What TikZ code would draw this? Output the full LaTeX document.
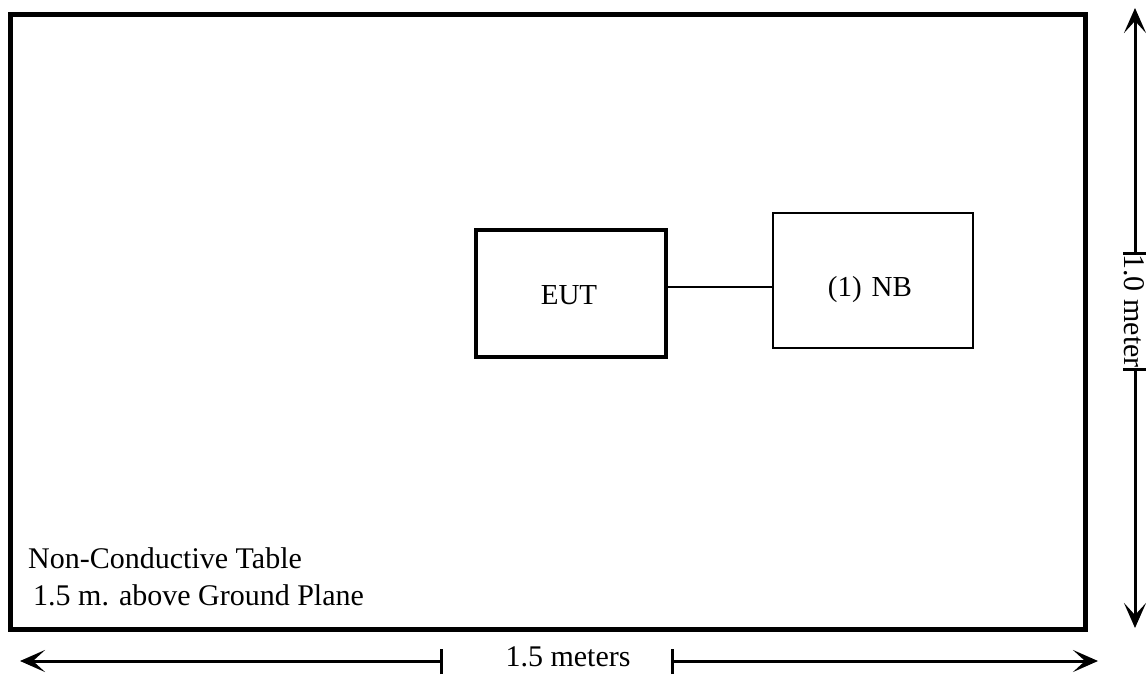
\documentclass[tikz,border=0pt]{standalone}
\usepackage{fontspec}
\setmainfont{Liberation Serif}
\usetikzlibrary{arrows.meta}
\begin{document}
\begin{tikzpicture}[x=1pt,y=-1pt,
  lbl/.style={font=\fontsize{30}{36}\selectfont, inner sep=0pt},
  boxlbl/.style={font=\fontsize{29}{34}\selectfont, inner sep=0pt},
  dimline/.style={line width=3pt},
  tipend/.style={-{Stealth[length=25pt,width=22pt,inset=12pt]}},
]
\useasboundingbox (0,0) rectangle (1146,675);
% table
\draw[line width=5pt] (10.5,14.5) rectangle (1085,629);
% boxes
\node[draw, line width=3.5pt, minimum width=190pt, minimum height=127pt, inner sep=0pt] (eut) at (571,293.5) {};
\node[boxlbl] (euttext) at (569,295) {EUT};
\node[draw, line width=2pt, minimum width=200pt, minimum height=135pt, inner sep=0pt] (nb) at (873,280.5) {};
\node[boxlbl] (nbtext) at (870,290) {(1)\hspace{10pt}NB};
\coordinate (cable) at (0,287);
\draw[line width=1.5pt] (eut.east |- cable) -- (nb.west |- cable);
% labels
\node[lbl, anchor=base west] (t1) at (28,568) {Non-Conductive Table};
\node[lbl, anchor=base west] (t2) at (33,605) {1.5 m. above Ground Plane};
% bottom dimension
\coordinate (bl) at (20,661);
\coordinate (bt1) at (441,661);
\coordinate (bt2) at (672,661);
\coordinate (br) at (1098,661);
\draw[dimline, tipend] (bt1) -- (bl);
\draw[dimline, tipend] (bt2) -- (br);
\draw[dimline] ([yshift=-13pt]bt1) -- ([yshift=12pt]bt1);
\draw[dimline] ([yshift=-13pt]bt2) -- ([yshift=12pt]bt2);
\node[lbl, anchor=base] (wlbl) at (568,666) {1.5 meters};
% right dimension
\coordinate (rt) at (1135,8);
\coordinate (rt1) at (1135,253);
\coordinate (rt2) at (1135,369);
\coordinate (rb) at (1135,628);
\draw[dimline, tipend] (rt1) -- (rt);
\draw[dimline, tipend] (rt2) -- (rb);
\draw[dimline] ([xshift=-12pt]rt1) -- ([xshift=11pt]rt1);
\draw[dimline] ([xshift=-12pt]rt2) -- ([xshift=11pt]rt2);
\node[lbl, rotate=-90] (hlbl) at (1134,311) {1.0 meter};
\end{tikzpicture}
\end{document}
